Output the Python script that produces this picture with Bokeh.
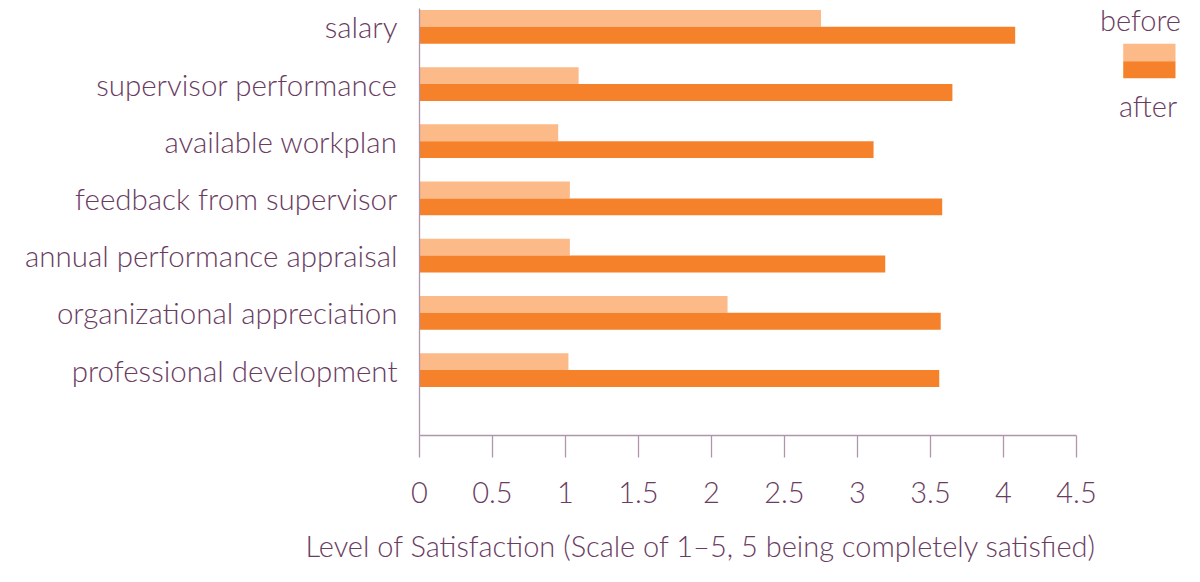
from bokeh.plotting import figure
from bokeh.models import (ColumnDataSource, Range1d, FixedTicker, Label, BoxAnnotation, Title)
from bokeh.embed import file_html
from bokeh.resources import INLINE

# ---- data ----
categories = ["salary", "supervisor performance", "available workplan",
              "feedback from supervisor", "annual performance appraisal",
              "organizational appreciation", "professional development"]
before = [2.75, 1.09, 0.95, 1.03, 1.03, 2.11, 1.02]
after = [4.08, 3.65, 3.11, 3.58, 3.19, 3.57, 3.56]
xtick_values = [0, 0.5, 1, 1.5, 2, 2.5, 3, 3.5, 4, 4.5]
xtick_labels = ["0", "0.5", "1", "1.5", "2", "2.5", "3", "3.5", "4", "4.5"]
series_names = ["before", "after"]
axis_title = "Level of Satisfaction (Scale of 1\u20135, 5 being completely satisfied)"

LIGHT = "#FBBA88"
DARK = "#F5822A"
TXT = "#6a3c62"
AXC = "#b096ab"
FONT = "Lato Light"

n = len(categories)
ypos = [n - 1 - i for i in range(n)]
bar_h = 0.295
src = ColumnDataSource(dict(
    cat=categories, before=before, after=after,
    yb=[y + bar_h / 2 for y in ypos], ya=[y - bar_h / 2 for y in ypos]))

p = figure(width=1184, height=582, output_backend="svg", toolbar_location=None,
           x_range=Range1d(0, 5.2397), y_range=Range1d(-1.145, 6.32),
           min_border_left=419, min_border_right=0, min_border_top=8,
           min_border_bottom=147)
p.outline_line_color = None
p.xgrid.grid_line_color = None
p.ygrid.grid_line_color = None
p.background_fill_color = "white"
p.border_fill_color = "white"

p.hbar(y="yb", right="before", left=0, height=bar_h, source=src,
       fill_color=LIGHT, line_color=None)
p.hbar(y="ya", right="after", left=0, height=bar_h, source=src,
       fill_color=DARK, line_color=None)

# x axis
xa = p.xaxis[0]
xa.ticker = FixedTicker(ticks=xtick_values)
xa.major_label_overrides = {v: l for v, l in zip(xtick_values, xtick_labels)}
xa.bounds = (0, 4.5)
xa.axis_line_color = AXC
xa.axis_line_width = 1.3
xa.major_tick_line_color = AXC
xa.major_tick_line_width = 1.3
xa.major_tick_out = 22
xa.major_tick_in = 0
xa.minor_tick_line_color = None
xa.major_label_text_font = FONT
xa.major_label_text_font_size = "29px"
xa.major_label_text_color = TXT
xa.major_label_standoff = 24

# y axis
ya = p.yaxis[0]
ya.ticker = FixedTicker(ticks=ypos)
ya.major_label_overrides = {y: c for y, c in zip(ypos, categories)}
ya.axis_line_color = AXC
ya.axis_line_width = 1.3
ya.major_tick_line_color = None
ya.major_tick_out = 0
ya.major_tick_in = 0
ya.minor_tick_line_color = None
ya.major_label_text_font = FONT
ya.major_label_text_font_size = "29.5px"
ya.major_label_text_color = TXT
ya.major_label_standoff = 22

# axis title (left-aligned, starting left of the frame as in the reference)
p.add_layout(Title(text=axis_title, align="left", offset=-114,
                   text_font=FONT, text_font_size="29px", text_color=TXT,
                   text_font_style="normal", standoff=40), "below")

# legend
p.add_layout(Label(x=4.938, y=6.13, text=series_names[0], text_align="center",
                   text_baseline="middle", text_font=FONT,
                   text_font_size="29px", text_color=TXT))
p.add_layout(Label(x=4.99, y=4.62, text=series_names[1], text_align="center",
                   text_baseline="middle", text_font=FONT,
                   text_font_size="29px", text_color=TXT))
p.add_layout(BoxAnnotation(left=4.82, right=5.178, top=5.703, bottom=5.399,
                           fill_color=LIGHT, fill_alpha=1, line_color=None))
p.add_layout(BoxAnnotation(left=4.82, right=5.178, top=5.399, bottom=5.101,
                           fill_color=DARK, fill_alpha=1, line_color=None))

open("out.html", "w").write(file_html(p, INLINE))
